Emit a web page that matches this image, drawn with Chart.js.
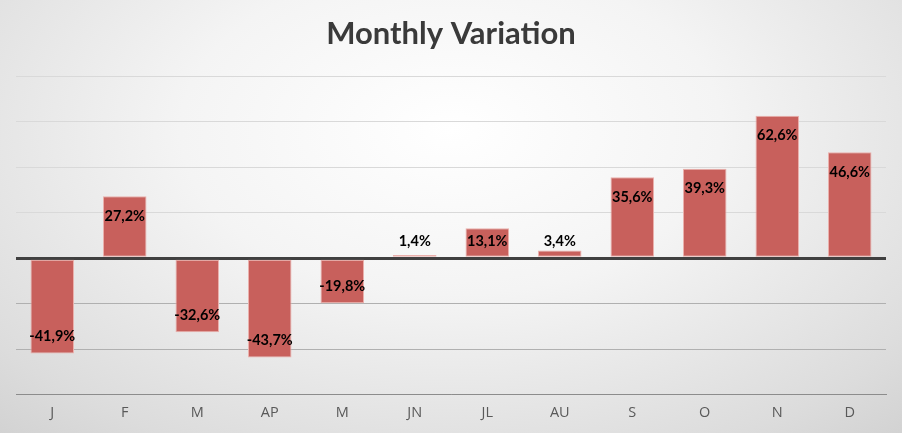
<!DOCTYPE html>
<html>
<head>
<meta charset="utf-8">
<script src="https://cdn.jsdelivr.net/npm/chart.js@4/dist/chart.umd.min.js"></script>
<style>
html,body{margin:0;padding:0;}
body{width:902px;height:433px;overflow:hidden;
background:radial-gradient(ellipse 75% 95% at 50% 30%, #ffffff 0%, #f4f4f4 40%, #dcdcdc 85%, #d2d2d2 100%);}
#wrap{position:relative;width:902px;height:433px;}
</style>
</head>
<body>
<div id="wrap"><canvas id="c"></canvas></div>
<script>
const categories = ["J","F","M","AP","M","JN","JL","AU","S","O","N","D"];
const variation = [-41.9, 27.2, -32.6, -43.7, -19.8, 1.4, 13.1, 3.4, 35.6, 39.3, 62.6, 46.6];
const yMin = -60, yMax = 80, yStep = 20;

const labelPlugin = {
  id: 'barLabels',
  afterDatasetsDraw(chart) {
    const ctx = chart.ctx;
    const meta = chart.getDatasetMeta(0);
    const zero = chart.scales.y.getPixelForValue(0);
    ctx.save();
    ctx.font = 'bold 14.5px Lato, "Open Sans", sans-serif';
    ctx.fillStyle = '#000000';
    ctx.textAlign = 'center';
    ctx.textBaseline = 'middle';
    meta.data.forEach((bar, i) => {
      const v = chart.data.datasets[0].data[i];
      let y;
      if (v >= 0) y = Math.min(bar.y + 20, zero - 17);
      else y = Math.max(bar.y - 17, zero + 17);
      const txt = v.toFixed(1).replace('.', ',') + '%';
      ctx.fillText(txt, bar.x, y);
    });
    ctx.restore();
  }
};

new Chart(document.getElementById('c'), {
  type: 'bar',
  data: {
    labels: categories,
    datasets: [{
      data: variation,
      backgroundColor: '#c8605c',
      borderColor: '#eab0ac',
      borderWidth: 1,
      borderSkipped: false,
      barPercentage: 0.6,
      categoryPercentage: 1.0
    }]
  },
  options: {
    responsive: true,
    maintainAspectRatio: false,
    animation: false,
    layout: { padding: { left: 16, right: 16, top: 10, bottom: 9 } },
    plugins: {
      legend: { display: false },
      tooltip: { enabled: false },
      title: {
        display: true,
        text: 'Monthly Variation',
        color: '#3a3a3a',
        font: { family: 'Lato, "Open Sans", sans-serif', size: 31, weight: 'bold' },
        padding: { top: 5, bottom: 24 }
      }
    },
    scales: {
      x: {
        grid: { display: false },
        border: { display: true, color: '#8c8c8c', width: 1 },
        ticks: { color: '#595959', font: { family: '"Open Sans", Lato, sans-serif', size: 14.5 }, padding: 2 }
      },
      y: {
        min: yMin, max: yMax,
        ticks: { display: false, stepSize: yStep },
        border: { display: false },
        grid: {
          drawTicks: false,
          color: ctx => ctx.tick && ctx.tick.value === 0 ? '#404040' : (ctx.tick && ctx.tick.value < 0 ? '#b0b0b0' : '#d9d9d9'),
          lineWidth: ctx => ctx.tick && ctx.tick.value === 0 ? 3 : 1
        }
      }
    }
  },
  plugins: [labelPlugin]
});
</script>
</body>
</html>
